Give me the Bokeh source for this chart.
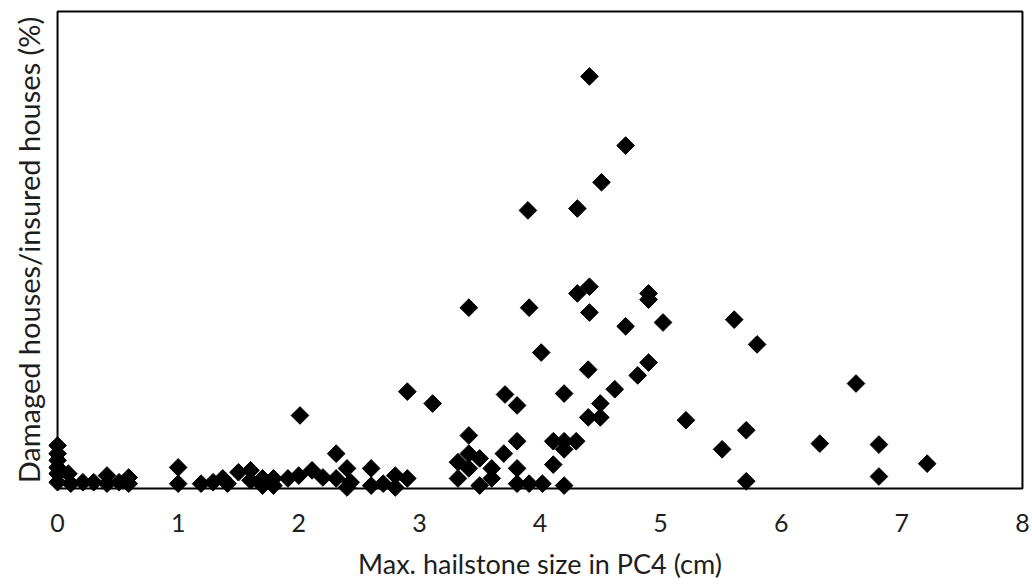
import numpy as np
from bokeh.plotting import figure
from bokeh.models import FixedTicker, ColumnDataSource, BoxAnnotation
from bokeh.embed import file_html
from bokeh.resources import INLINE

# Max. hailstone size in PC4 (cm)
hail_size = [
    0.00, 0.00, 0.00, 0.00, 0.00, 0.00, 0.09, 0.11, 0.21, 0.30,
    0.41, 0.41, 0.51, 0.59, 0.59, 1.00, 1.00, 1.19, 1.29, 1.37,
    1.41, 1.50, 1.60, 1.60, 1.70, 1.70, 1.79, 1.79, 1.91, 2.00,
    2.01, 2.11, 2.20, 2.31, 2.31, 2.40, 2.43, 2.40, 2.60, 2.60,
    2.70, 2.80, 2.80, 2.90, 2.90, 3.11, 3.32, 3.32, 3.41, 3.41,
    3.41, 3.41, 3.50, 3.50, 3.60, 3.60, 3.70, 3.71, 3.81, 3.81,
    3.81, 3.81, 3.91, 3.91, 3.90, 4.02, 4.01, 4.11, 4.11, 4.20,
    4.20, 4.20, 4.20, 4.30, 4.31, 4.31, 4.40, 4.40, 4.41, 4.41,
    4.41, 4.50, 4.50, 4.51, 4.62, 4.71, 4.71, 4.81, 4.90, 4.90,
    4.90, 5.02, 5.21, 5.51, 5.61, 5.71, 5.71, 5.80, 6.32, 6.62,
    6.81, 6.81, 7.21,
]
# Damaged houses / insured houses (%), relative scale (no tick labels on reference)
damage_ratio = [
    9.0, 7.3, 5.9, 4.4, 3.1, 1.3, 3.1, 1.0, 1.3, 1.3,
    2.7, 1.0, 1.3, 2.3, 1.0, 4.4, 1.0, 1.0, 1.3, 2.1,
    1.0, 3.4, 3.8, 1.7, 2.1, 0.6, 2.1, 0.6, 2.1, 2.7,
    15.3, 3.8, 2.3, 7.3, 2.1, 4.2, 1.3, 0.2, 4.2, 0.6,
    1.0, 2.7, 0.2, 2.1, 20.3, 17.8, 5.5, 2.1, 11.1, 7.3,
    4.2, 37.9, 6.3, 0.6, 4.2, 2.1, 7.3, 19.7, 17.4, 9.9,
    4.2, 1.0, 1.0, 37.9, 58.3, 1.0, 28.5, 9.9, 5.0, 9.9,
    8.2, 0.6, 19.9, 9.9, 40.9, 58.7, 14.9, 24.9, 36.9, 42.3,
    86.4, 14.9, 17.8, 64.2, 20.8, 34.0, 71.9, 23.7, 26.4, 39.6,
    40.9, 34.8, 14.3, 8.2, 35.4, 12.2, 1.5, 30.2, 9.4, 22.0,
    9.2, 2.5, 5.2,
]
x_ticks = [0, 1, 2, 3, 4, 5, 6, 7, 8]
x_min, x_max = 0, 8
y_min, y_max = 0, 100

FONT = "Lato"
TEXT = "#1e1e1e"

# small padding so markers on the axes are not clipped (as in the reference)
pad_x = 0.075
pad_y = 1.9

p = figure(width=1032, height=584, output_backend="svg", toolbar_location=None,
           x_range=(x_min - pad_x, x_max + pad_x), y_range=(y_min - pad_y, y_max + pad_y),
           min_border_left=48, min_border_right=1, min_border_top=2, min_border_bottom=87)

src = ColumnDataSource(dict(x=hail_size, y=damage_ratio))
p.scatter("x", "y", source=src, marker="square", size=12.5, angle=np.pi / 4,
          fill_color="black", line_color="black", line_width=1)

# plot frame box at the data limits
p.add_layout(BoxAnnotation(left=x_min, right=x_max, bottom=y_min, top=y_max,
                           fill_alpha=0, line_color="black", line_alpha=1.0,
                           line_width=2, level="underlay"))

p.xgrid.visible = False
p.ygrid.visible = False
p.outline_line_color = None
p.background_fill_color = "white"
p.border_fill_color = "white"

p.xaxis.ticker = FixedTicker(ticks=x_ticks)
p.xaxis.major_tick_line_color = None
p.xaxis.minor_tick_line_color = None
p.xaxis.axis_line_color = None
p.xaxis.major_label_text_font = FONT
p.xaxis.major_label_text_font_size = "25px"
p.xaxis.major_label_text_color = TEXT
p.xaxis.major_label_standoff = 10
p.xaxis.axis_label = "Max. hailstone size in PC4 (cm)"
p.xaxis.axis_label_text_font = FONT
p.xaxis.axis_label_text_font_size = "27px"
p.xaxis.axis_label_text_font_style = "normal"
p.xaxis.axis_label_text_color = TEXT
p.xaxis.axis_label_standoff = 12

p.yaxis.ticker = FixedTicker(ticks=[])
p.yaxis.major_tick_line_color = None
p.yaxis.minor_tick_line_color = None
p.yaxis.axis_line_color = None
p.yaxis.axis_label = "Damaged houses/insured houses (%)"
p.yaxis.axis_label_text_font = FONT
p.yaxis.axis_label_text_font_size = "29px"
p.yaxis.axis_label_text_font_style = "normal"
p.yaxis.axis_label_text_color = TEXT
p.yaxis.axis_label_standoff = 3

open("out.html", "w").write(file_html(p, INLINE))
